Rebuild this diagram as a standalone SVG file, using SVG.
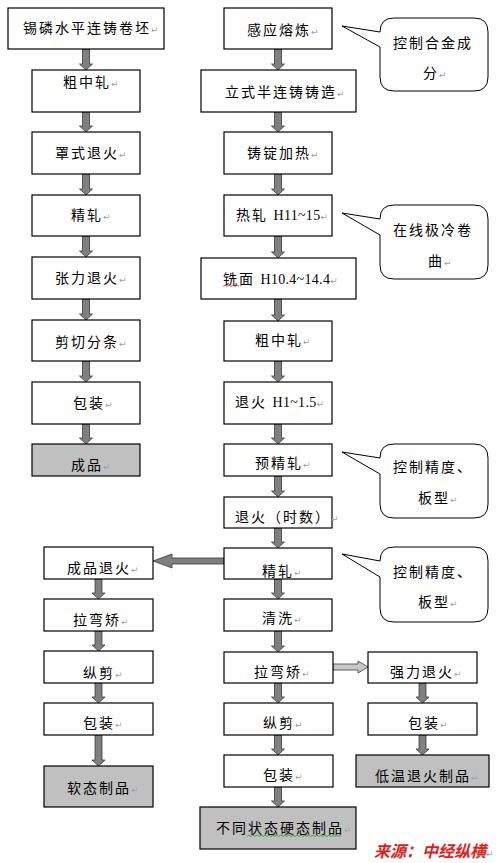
<svg xmlns="http://www.w3.org/2000/svg" width="497" height="863" viewBox="0 0 497 863">
<style>
.b{fill:#fff;stroke:#000;stroke-width:1.2}
.g{fill:#c0c0c0;stroke:#000;stroke-width:1.2}
.c{fill:#fff;stroke:#000;stroke-width:1}
.t{font-family:"Liberation Serif","Noto Sans CJK SC",serif;font-size:14px;letter-spacing:2px;fill:#000}
.lat{letter-spacing:0.3px}
.pm{font-family:"DejaVu Sans",sans-serif;font-size:9px;fill:#a0a0a0;letter-spacing:0}
.a{fill:#7f7f7f;stroke:#3a3a3a;stroke-width:0.8}
.al{fill:#c8c8c8;stroke:#3a3a3a;stroke-width:0.8}
.src{font-family:"Noto Sans CJK SC",sans-serif;font-size:16px;font-weight:bold;font-style:italic;fill:#e02020}
.wr{fill:none;stroke:#e02020;stroke-width:0.8}
.wg{fill:none;stroke:#20a020;stroke-width:0.8}
</style>
<rect width="497" height="863" fill="#fff"/>

<g id="connectors">
<!-- left column -->
<path class="a" d="M82.5 49H89.5V64H92.5L86 70L79.5 64H82.5Z"/>
<path class="a" d="M82.5 112H89.5V126H92.5L86 132L79.5 126H82.5Z"/>
<path class="a" d="M82.5 174H89.5V189H92.5L86 195L79.5 189H82.5Z"/>
<path class="a" d="M82.5 236H89.5V251H92.5L86 257L79.5 251H82.5Z"/>
<path class="a" d="M82.5 299H89.5V314H92.5L86 320L79.5 314H82.5Z"/>
<path class="a" d="M82.5 361H89.5V376H92.5L86 382L79.5 376H82.5Z"/>
<path class="a" d="M82.5 424H89.5V438H92.5L86 444L79.5 438H82.5Z"/>
<!-- right column -->
<path class="a" d="M274.5 49H281.5V64H284.5L278 70L271.5 64H274.5Z"/>
<path class="a" d="M274.5 112H281.5V126H284.5L278 132L271.5 126H274.5Z"/>
<path class="a" d="M274.5 174H281.5V189H284.5L278 195L271.5 189H274.5Z"/>
<path class="a" d="M274.5 236H281.5V252H284.5L278 258L271.5 252H274.5Z"/>
<path class="a" d="M274.5 299H281.5V315H284.5L278 321L271.5 315H274.5Z"/>
<path class="a" d="M274.5 361H281.5V376H284.5L278 382L271.5 376H274.5Z"/>
<path class="a" d="M274.5 424H281.5V438H284.5L278 444L271.5 438H274.5Z"/>
<path class="a" d="M274.5 476H281.5V491H284.5L278 497L271.5 491H274.5Z"/>
<path class="a" d="M274.5 528H281.5V542H284.5L278 548L271.5 542H274.5Z"/>
<path class="a" d="M274.5 579H281.5V593H284.5L278 599L271.5 593H274.5Z"/>
<path class="a" d="M274.5 631H281.5V646H284.5L278 652L271.5 646H274.5Z"/>
<path class="a" d="M274.5 683H281.5V697H284.5L278 703L271.5 697H274.5Z"/>
<path class="a" d="M274.5 735H281.5V749H284.5L278 755L271.5 749H274.5Z"/>
<path class="a" d="M274.5 787H281.5V801H284.5L278 807L271.5 801H274.5Z"/>
<!-- left lower column -->
<path class="a" d="M95 579H102V593H105L98.5 599L92 593H95Z"/>
<path class="a" d="M95 631H102V645H105L98.5 651L92 645H95Z"/>
<path class="a" d="M95 683H102V697H105L98.5 703L92 697H95Z"/>
<path class="a" d="M95 735H102V760H105L98.5 766L92 760H95Z"/>
<!-- right lower column -->
<path class="a" d="M419 683H426V697H429L422.5 703L416 697H419Z"/>
<path class="a" d="M419 735H426V749H429L422.5 755L416 749H419Z"/>
<!-- horizontal -->
<path class="a" d="M224 558V564H172V568L153 561L172 554V558Z"/>
<path class="al" d="M333 664V670H358V673L368 667L358 661V664Z"/>
</g>

<!-- left column -->
<g id="n-l1"><rect class="b" x="8" y="8" width="156" height="41"/><text class="t" x="23" y="33">锡磷水平连铸卷坯<tspan class="pm">↵</tspan></text></g>
<g id="n-l2"><rect class="b" x="32" y="70" width="108" height="42"/><text class="t" x="63" y="87">粗中轧<tspan class="pm">↵</tspan></text></g>
<g id="n-l3"><rect class="b" x="32" y="132" width="108" height="42"/><text class="t" x="55" y="158">罩式退火<tspan class="pm">↵</tspan></text></g>
<g id="n-l4"><rect class="b" x="32" y="195" width="108" height="41"/><text class="t" x="71" y="220">精轧<tspan class="pm">↵</tspan></text></g>
<g id="n-l5"><rect class="b" x="32" y="257" width="108" height="42"/><text class="t" x="55" y="283">张力退火<tspan class="pm">↵</tspan></text></g>
<g id="n-l6"><rect class="b" x="32" y="320" width="108" height="41"/><text class="t" x="55" y="347">剪切分条<tspan class="pm">↵</tspan></text></g>
<g id="n-l7"><rect class="b" x="32" y="382" width="108" height="42"/><text class="t" x="73" y="408">包装<tspan class="pm">↵</tspan></text></g>
<g id="n-l8"><rect class="g" x="32" y="444" width="108" height="32"/><text class="t" x="71" y="470">成品<tspan class="pm">↵</tspan></text></g>

<!-- right column -->
<g id="n-r1"><rect class="b" x="224" y="8" width="108" height="41"/><text class="t" x="247" y="35">感应熔炼<tspan class="pm">↵</tspan></text></g>
<g id="n-r2"><rect class="b" x="201" y="70" width="155" height="42"/><text class="t" x="225" y="97">立式半连铸铸造<tspan class="pm">↵</tspan></text></g>
<g id="n-r3"><rect class="b" x="224" y="132" width="108" height="42"/><text class="t" x="247" y="158">铸锭加热<tspan class="pm">↵</tspan></text></g>
<g id="n-r4"><rect class="b" x="224" y="195" width="108" height="41"/><text class="t" x="236" y="220">热轧 <tspan class="lat">H11~15</tspan><tspan class="pm">↵</tspan></text></g>
<g id="n-r5"><rect class="b" x="201" y="258" width="155" height="41"/><text class="t" x="223" y="284">铣面 <tspan class="lat">H10.4~14.4</tspan><tspan class="pm">↵</tspan></text><path class="wr" d="M223 286.5l2 -1.5l2 1.5l2 -1.5l2 1.5l2 -1.5l2 1.5l2 -1.5l2 1.5"/></g>
<g id="n-r6"><rect class="b" x="224" y="321" width="108" height="40"/><text class="t" x="255" y="345">粗中轧<tspan class="pm">↵</tspan></text></g>
<g id="n-r7"><rect class="b" x="224" y="382" width="108" height="42"/><text class="t" x="235" y="407">退火 <tspan class="lat">H1~1.5</tspan><tspan class="pm">↵</tspan></text></g>
<g id="n-r8"><rect class="b" x="224" y="444" width="108" height="32"/><text class="t" x="255" y="468">预精轧<tspan class="pm">↵</tspan></text></g>
<g id="n-r9"><rect class="b" x="224" y="497" width="108" height="31"/><text class="t" x="235" y="522">退火（时数）<tspan class="pm">↵</tspan></text></g>
<g id="n-r10"><rect class="b" x="224" y="548" width="108" height="31"/><text class="t" x="262" y="576">精轧<tspan class="pm">↵</tspan></text></g>
<g id="n-r11"><rect class="b" x="224" y="599" width="108" height="32"/><text class="t" x="262" y="623">清洗<tspan class="pm">↵</tspan></text></g>
<g id="n-r12"><rect class="b" x="224" y="652" width="109" height="31"/><text class="t" x="254" y="677">拉弯矫<tspan class="pm">↵</tspan></text></g>
<g id="n-r13"><rect class="b" x="224" y="703" width="109" height="32"/><text class="t" x="263" y="728">纵剪<tspan class="pm">↵</tspan></text></g>
<g id="n-r14"><rect class="b" x="224" y="755" width="109" height="32"/><text class="t" x="263" y="780">包装<tspan class="pm">↵</tspan></text></g>
<g id="n-r15"><rect class="g" x="200" y="807" width="156" height="42"/><text class="t" x="216" y="833">不同状态硬态制品<tspan class="pm">↵</tspan></text><path class="wg" d="M247 836.5l2 -1.5l2 1.5l2 -1.5l2 1.5l2 -1.5l2 1.5l2 -1.5l2 1.5l2 -1.5l2 1.5l2 -1.5l2 1.5l2 -1.5l2 1.5l2 -1.5l2 1.5l2 -1.5l2 1.5l2 -1.5l2 1.5l2 -1.5l2 1.5l2 -1.5l2 1.5l2 -1.5l2 1.5l2 -1.5l2 1.5l2 -1.5l2 1.5l2 -1.5l2 1.5l2 -1.5l2 1.5l2 -1.5l2 1.5l2 -1.5l2 1.5l2 -1.5l2 1.5l2 -1.5l2 1.5l2 -1.5l2 1.5l2 -1.5l2 1.5l2 -1.5"/></g>

<!-- right lower column -->
<g id="n-s1"><rect class="b" x="368" y="652" width="109" height="31"/><text class="t" x="390" y="677">强力退火<tspan class="pm">↵</tspan></text></g>
<g id="n-s2"><rect class="b" x="368" y="703" width="109" height="32"/><text class="t" x="408" y="728">包装<tspan class="pm">↵</tspan></text></g>
<g id="n-s3"><rect class="g" x="356" y="755" width="133" height="32"/><text class="t" x="375" y="781">低温退火制品<tspan class="pm">↵</tspan></text></g>

<!-- left lower column -->
<g id="n-k1"><rect class="b" x="44" y="547" width="109" height="32"/><text class="t" x="67" y="573">成品退火<tspan class="pm">↵</tspan></text></g>
<g id="n-k2"><rect class="b" x="44" y="599" width="109" height="32"/><text class="t" x="73" y="625">拉弯矫<tspan class="pm">↵</tspan></text></g>
<g id="n-k3"><rect class="b" x="44" y="651" width="109" height="32"/><text class="t" x="83" y="678">纵剪<tspan class="pm">↵</tspan></text></g>
<g id="n-k4"><rect class="b" x="44" y="703" width="109" height="32"/><text class="t" x="83" y="728">包装<tspan class="pm">↵</tspan></text></g>
<g id="n-k5"><rect class="g" x="44" y="766" width="109" height="41"/><text class="t" x="67" y="793">软态制品<tspan class="pm">↵</tspan></text></g>

<!-- callouts -->
<g id="callout1"><path class="c" d="M394 18H474Q488 18 488 32V77Q488 91 474 91H394Q380 91 380 77V47L342 26L380 32Q380 18 394 18Z"/><text class="t" x="393" y="48">控制合金成</text><text class="t" x="423" y="78">分<tspan class="pm">↵</tspan></text></g>
<g id="callout2"><path class="c" d="M394 205H474Q488 205 488 219V265Q488 279 474 279H394Q380 279 380 265V235L342 213L380 219Q380 205 394 205Z"/><text class="t" x="393" y="235">在线极冷卷</text><text class="t" x="428" y="266">曲<tspan class="pm">↵</tspan></text></g>
<g id="callout3"><path class="c" d="M394 444H474Q488 444 488 458V504Q488 518 474 518H394Q380 518 380 504V474L342 452L380 458Q380 444 394 444Z"/><text class="t" x="393" y="472">控制精度、</text><text class="t" x="418" y="503">板型<tspan class="pm">↵</tspan></text></g>
<g id="callout4"><path class="c" d="M394 547H474Q488 547 488 561V608Q488 622 474 622H394Q380 622 380 608V577L342 554L380 561Q380 547 394 547Z"/><text class="t" x="393" y="577">控制精度、</text><text class="t" x="418" y="607">板型<tspan class="pm">↵</tspan></text></g>

<g id="source"><text class="src" x="374" y="857">来源：中经纵横<tspan class="pm" font-style="normal" font-weight="normal">↵</tspan></text></g>
</svg>
